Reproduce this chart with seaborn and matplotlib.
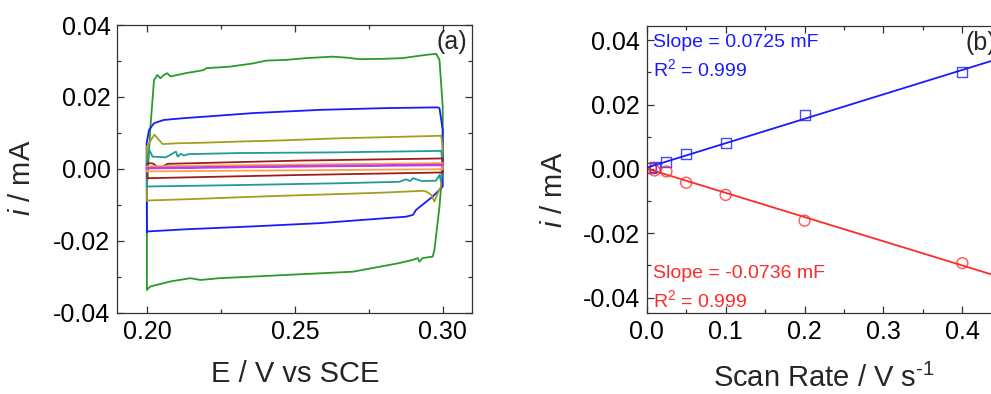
import numpy as np
import pandas as pd
import matplotlib
matplotlib.use("Agg")
import matplotlib.pyplot as plt
import seaborn as sns
from matplotlib.ticker import MultipleLocator, FormatStrFormatter

# ---------------- data: panel (a) cyclic voltammograms ----------------
# scan rates (V/s) and line colours
scan_rates = [0.4, 0.2, 0.1, 0.05, 0.025, 0.01, 0.005]
cv_colors = ["#2a9a2a", "#1a1aff", "#a0a020", "#229a9a", "#a01c1c", "#ffa040", "#c03cf0"]

e_400 = [0.2000, 0.2000, 0.2012, 0.2024, 0.2035, 0.2046, 0.2057, 0.2069, 0.2080, 0.2102,
         0.2136, 0.2160, 0.2193, 0.2200, 0.2278, 0.2357, 0.2403, 0.2470, 0.2538, 0.2628,
         0.2680, 0.2718, 0.2800, 0.2865, 0.2899, 0.2944, 0.2978, 0.2989, 0.3000, 0.3000,
         0.2989, 0.2972, 0.2966, 0.2932, 0.2921, 0.2916, 0.2899, 0.2853, 0.2696, 0.2470,
         0.2245, 0.2181, 0.2147, 0.2080, 0.2012, 0.2000]
i_400 = [-0.0336, -0.0050, 0.0118, 0.0247, 0.0261, 0.0252, 0.0261, 0.0266, 0.0257, 0.0261,
         0.0267, 0.0270, 0.0275, 0.0280, 0.0284, 0.0293, 0.0301, 0.0303, 0.0308, 0.0312,
         0.0309, 0.0305, 0.0306, 0.0308, 0.0312, 0.0317, 0.0320, 0.0303, 0.0173, 0.0006,
         -0.0105, -0.0225, -0.0244, -0.0248, -0.0258, -0.0248, -0.0253, -0.0262, -0.0286, -0.0295,
         -0.0304, -0.0309, -0.0304, -0.0313, -0.0327, -0.0336]

e_200 = [0.2000, 0.1999, 0.1999, 0.2007, 0.2024, 0.2057, 0.2125, 0.2193, 0.2357, 0.2583,
         0.2809, 0.2983, 0.2989, 0.3000, 0.3000, 0.2966, 0.2910, 0.2899, 0.2876, 0.2809,
         0.2583, 0.2357, 0.2132, 0.2002, 0.2000]
i_200 = [-0.0176, 0.0000, 0.0071, 0.0108, 0.0127, 0.0136, 0.0141, 0.0145, 0.0155, 0.0164,
         0.0169, 0.0171, 0.0169, 0.0108, -0.0049, -0.0077, -0.0114, -0.0128, -0.0133, -0.0137,
         -0.0151, -0.0160, -0.0168, -0.0174, -0.0176]

e_100 = [0.2000, 0.2000, 0.2025, 0.2053, 0.2100, 0.2200, 0.2312, 0.2450, 0.2650, 0.2800,
         0.2995, 0.3000, 0.2994, 0.2983, 0.2972, 0.2961, 0.2944, 0.2933, 0.2800, 0.2650,
         0.2450, 0.2312, 0.2150, 0.2000]
i_100 = [-0.0088, 0.0062, 0.0095, 0.0069, 0.0071, 0.0073, 0.0076, 0.0079, 0.0085, 0.0088,
         0.0092, 0.0060, -0.0049, -0.0068, -0.0091, -0.0072, -0.0063, -0.0061, -0.0066, -0.0070,
         -0.0075, -0.0079, -0.0084, -0.0088]

e_050 = [0.2000, 0.2000, 0.2008, 0.2019, 0.2064, 0.2098, 0.2104, 0.2115, 0.2125, 0.2140,
         0.2312, 0.2650, 0.2995, 0.3000, 0.2994, 0.2989, 0.2977, 0.2930, 0.2899, 0.2890,
         0.2876, 0.2853, 0.2650, 0.2312, 0.2000]
i_050 = [-0.0049, 0.0020, 0.0053, 0.0034, 0.0032, 0.0048, 0.0034, 0.0042, 0.0037, 0.0041,
         0.0044, 0.0046, 0.0050, 0.0010, -0.0035, -0.0017, -0.0033, -0.0034, -0.0026, -0.0034,
         -0.0029, -0.0036, -0.0040, -0.0045, -0.0049]

e_025 = [0.2002, 0.2000, 0.2002, 0.2020, 0.2036, 0.2053, 0.2070, 0.2516, 0.3000, 0.3000,
         0.3000, 0.2516, 0.2002]
i_025 = [-0.0026, 0.0000, 0.0016, 0.0015, 0.0006, 0.0006, 0.0014, 0.0023, 0.0029, 0.0000,
         -0.0010, -0.0017, -0.0026]

e_010 = [0.2000, 0.2000, 0.2500, 0.3000, 0.3000, 0.2500, 0.2000]
i_010 = [-0.0007, 0.0007, 0.0012, 0.0016, -0.0001, -0.0004, -0.0007]

e_005 = [0.2000, 0.2000, 0.2500, 0.3000, 0.3000, 0.2500, 0.2000]
i_005 = [0.0001, 0.0003, 0.0008, 0.0012, 0.0010, 0.0006, 0.0001]

cv_E = [e_400, e_200, e_100, e_050, e_025, e_010, e_005]
cv_I = [i_400, i_200, i_100, i_050, i_025, i_010, i_005]

# ---------------- data: panel (b) current vs scan rate ----------------
rate_b = [0.005, 0.01, 0.025, 0.05, 0.1, 0.2, 0.4]
i_anodic = [0.0004, 0.0007, 0.0020, 0.0046, 0.0080, 0.0168, 0.0301]
i_cathodic = [0.0002, -0.0005, -0.0008, -0.0043, -0.0081, -0.0161, -0.0293]

# ---------------- style ----------------
sns.set_style("ticks")
plt.rcParams["font.family"] = ["Liberation Sans", "DejaVu Sans"]
plt.rcParams["mathtext.fontset"] = "custom"
plt.rcParams["mathtext.rm"] = "Liberation Sans"
plt.rcParams["mathtext.it"] = "Liberation Sans:italic"
plt.rcParams["mathtext.default"] = "regular"
plt.rcParams["axes.unicode_minus"] = False

FRAME = "#333333"
BLUE = "#1a1aff"
RED = "#ff2a2a"

fig = plt.figure(figsize=(9.91, 3.94), dpi=100)
ax1 = fig.add_axes([0.1184, 0.2063, 0.3582, 0.7302])
ax2 = fig.add_axes([0.6526, 0.2056, 0.3583, 0.7284])

# ---- panel (a)
frames = []
for r, e, i in zip(scan_rates, cv_E, cv_I):
    frames.append(pd.DataFrame({"E": e, "i": i, "rate": r}))
cv = pd.concat(frames, ignore_index=True)
pal = dict(zip(scan_rates, cv_colors))
sns.lineplot(data=cv, x="E", y="i", hue="rate", hue_order=scan_rates, palette=pal,
             sort=False, estimator=None, legend=False, linewidth=1.3, ax=ax1)
ax1.set_xlim(0.19, 0.31)
ax1.set_ylim(-0.04, 0.04)
ax1.xaxis.set_major_locator(MultipleLocator(0.05))
ax1.xaxis.set_minor_locator(MultipleLocator(0.025))
ax1.yaxis.set_major_locator(MultipleLocator(0.02))
ax1.yaxis.set_minor_locator(MultipleLocator(0.01))
ax1.xaxis.set_major_formatter(FormatStrFormatter("%.2f"))
ax1.yaxis.set_major_formatter(FormatStrFormatter("%.2f"))
ax1.set_xlabel("E / V vs SCE", fontsize=21)
ax1.set_ylabel(r"$\mathit{i}$ / mA", fontsize=21)
ax1.text(0.985, 0.915, "(a)", transform=ax1.transAxes, ha="right", va="baseline", fontsize=18)

# ---- panel (b)
ax2.set_xlim(0, 0.45)
sns.regplot(x=rate_b, y=i_anodic, ci=None, truncate=False, marker="s", color=BLUE,
            scatter_kws=dict(facecolors="none", s=52, linewidths=1.0),
            line_kws=dict(linewidth=1.3), ax=ax2)
sns.regplot(x=rate_b, y=i_cathodic, ci=None, truncate=False, marker="o", color=RED,
            scatter_kws=dict(facecolors="none", s=62, linewidths=1.0),
            line_kws=dict(linewidth=1.3), ax=ax2)
ax2.set_xlim(0, 0.45)
ax2.set_ylim(-0.0448, 0.0444)
ax2.xaxis.set_major_locator(MultipleLocator(0.1))
ax2.xaxis.set_minor_locator(MultipleLocator(0.05))
ax2.yaxis.set_major_locator(MultipleLocator(0.02))
ax2.yaxis.set_minor_locator(MultipleLocator(0.01))
ax2.xaxis.set_major_formatter(FormatStrFormatter("%.1f"))
ax2.yaxis.set_major_formatter(FormatStrFormatter("%.2f"))
ax2.set_xlabel(r"Scan Rate / V s$^{\text{-1}}$", fontsize=21)
ax2.set_ylabel(r"$\mathit{i}$ / mA", fontsize=21)
ax2.text(0.8966, 0.916, "(b)", transform=ax2.transAxes, ha="left", va="baseline", fontsize=18)
ax2.text(0.017, 0.926, "Slope = 0.0725 mF", transform=ax2.transAxes, color=BLUE, fontsize=14, va="baseline")
ax2.text(0.017, 0.827, "R$^2$ = 0.999", transform=ax2.transAxes, color=BLUE, fontsize=14, va="baseline")
ax2.text(0.017, 0.122, "Slope = -0.0736 mF", transform=ax2.transAxes, color=RED, fontsize=14, va="baseline")
ax2.text(0.017, 0.022, "R$^2$ = 0.999", transform=ax2.transAxes, color=RED, fontsize=14, va="baseline")

for ax in (ax1, ax2):
    ax.tick_params(which="both", direction="in", top=True, right=True, labelsize=18,
                   width=0.9, color=FRAME, labelcolor="black")
    ax.tick_params(which="major", length=5)
    ax.tick_params(which="minor", length=3)
    ax.tick_params(axis="x", pad=5)
    ax.tick_params(axis="y", pad=5)
    for s in ax.spines.values():
        s.set_color(FRAME)
        s.set_linewidth(0.9)

# label positions
ax1.yaxis.set_label_coords(-0.2696, 0.47)
ax1.yaxis.label.set_va("center")
ax2.yaxis.set_label_coords(-0.2625, 0.429)
ax2.yaxis.label.set_va("center")
ax1.xaxis.set_label_coords(0.5, -0.240)
ax1.xaxis.label.set_va("baseline")
ax2.xaxis.set_label_coords(0.5, -0.259)
ax2.xaxis.label.set_va("baseline")

fig.savefig("out.png", dpi=100)
